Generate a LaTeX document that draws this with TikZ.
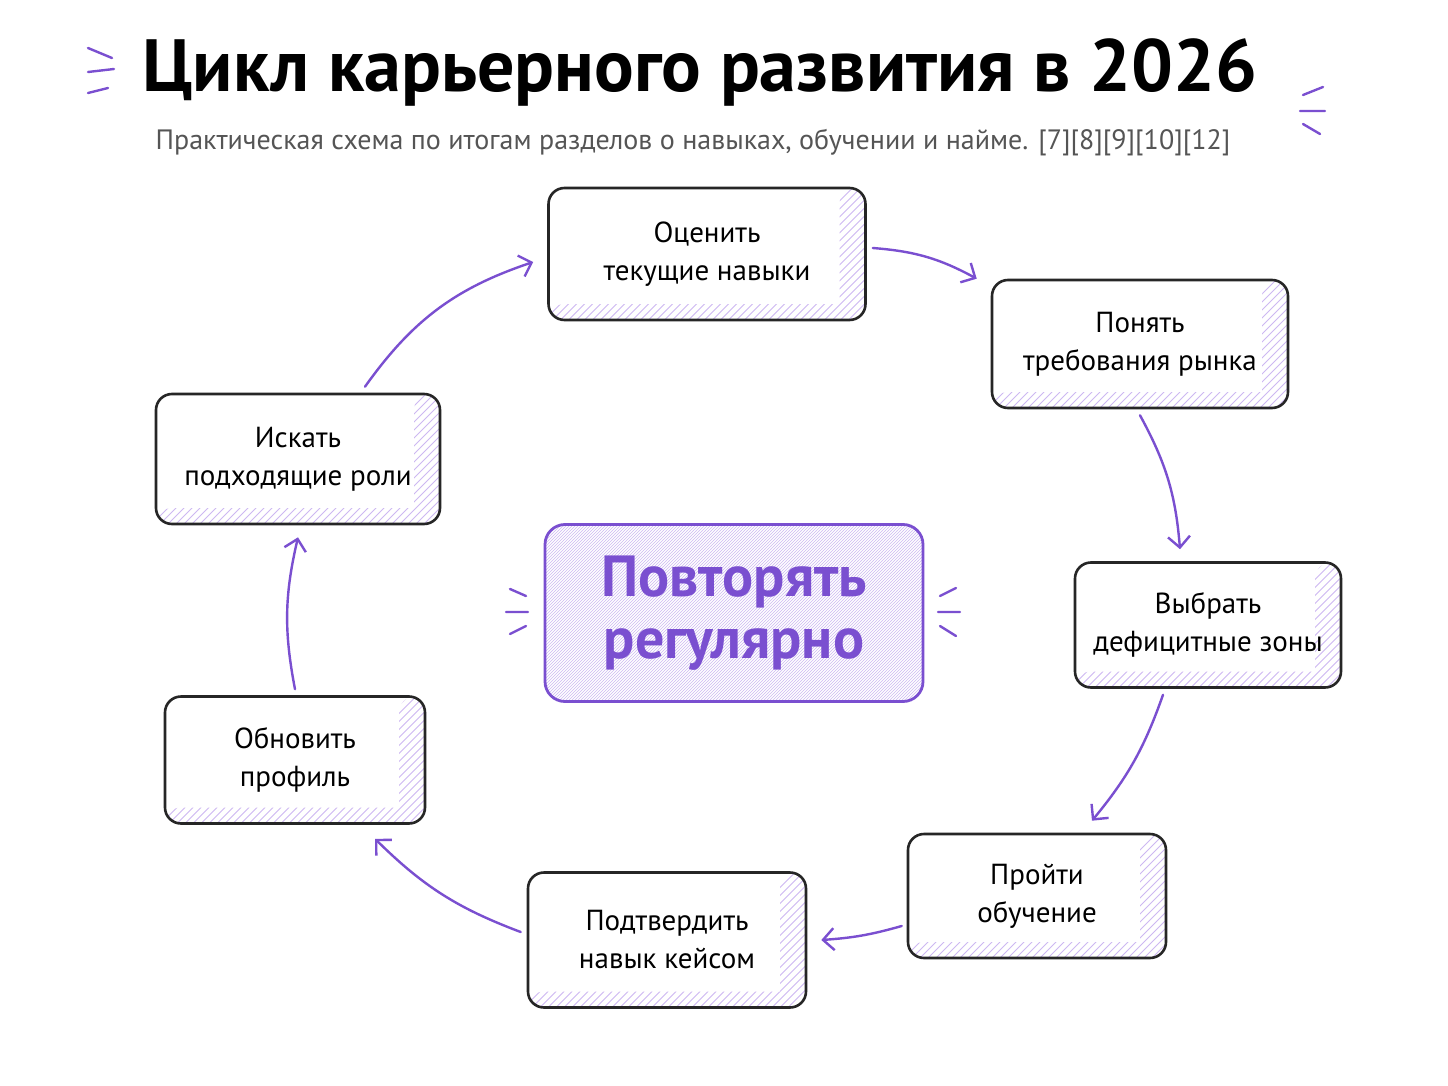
\documentclass[tikz,border=0pt]{standalone}
\usepackage{fontspec}
\setmainfont{PT Sans}
\usetikzlibrary{arrows.meta,patterns}
\definecolor{pur}{HTML}{7A4FD0}
\definecolor{hat}{HTML}{CDB8F2}
\definecolor{sub}{HTML}{555555}
\begin{document}
\begin{tikzpicture}[x=1pt,y=-1pt,
  hatch/.style={path picture={
    \begin{scope}
    \clip (path picture bounding box.south west) ++(0,-16) rectangle (path picture bounding box.south east)
          (path picture bounding box.north east) ++(-26,0) rectangle (path picture bounding box.south east);
    \foreach \i in {-300,-292,...,700}{\draw[hat,line width=0.8pt] ([xshift=\i pt]path picture bounding box.south west) -- ++(150,-150);}
    \end{scope}}},
  box/.style={draw=black!85,line width=2.6pt,rounded corners=16pt,fill=white,align=center,font=\fontsize{29}{38}\selectfont,hatch},
  arr/.style={draw=pur,line width=2.4pt,-{Straight Barb[length=11pt,width=22pt]},line cap=round},
  deco/.style={draw=pur,line width=2.4pt,line cap=round}]
\useasboundingbox (0,0) rectangle (1448,1086);
\fill[white] (0,0) rectangle (1448,1086);
\node (title) at (700,72) {\fontsize{74}{80}\selectfont\bfseries Цикл карьерного развития в 2026};
\node[text=sub] (subt) at (693,143) {\fontsize{28}{32}\selectfont Практическая схема по итогам разделов о навыках, обучении и найме. [7][8][9][10][12]};
\node[box,minimum width=317pt,minimum height=132pt] (n1) at (707,254) {Оценить\\текущие навыки};
\node[box,minimum width=296pt,minimum height=128pt] (n2) at (1140,344) {Понять\\требования рынка};
\node[box,minimum width=266pt,minimum height=125pt] (n3) at (1208,625) {Выбрать\\дефицитные зоны};
\node[box,minimum width=258pt,minimum height=124pt] (n4) at (1037,896) {Пройти\\обучение};
\node[box,minimum width=278pt,minimum height=135pt] (n5) at (667,940) {Подтвердить\\навык кейсом};
\node[box,minimum width=260pt,minimum height=127pt] (n6) at (295,760) {Обновить\\профиль};
\node[box,minimum width=284pt,minimum height=130pt] (n7) at (298,459) {Искать\\подходящие роли};
\node[draw=pur,line width=2.8pt,rounded corners=20pt,minimum width=378pt,minimum height=177pt,pattern={north east lines},pattern color=hat,align=center,text=pur,font=\fontsize{58}{62}\selectfont\bfseries] (c) at (734,613) {Повторять\\регулярно};
\draw[arr] ([xshift=6pt,yshift=6pt]n1.east) to[bend left=12] ([xshift=-14pt]n2.north west);
\draw[arr] ([yshift=-6pt]n2.south) to[bend left=12] ([yshift=12pt,xshift=-28pt]n3.north);
\draw[arr] ([yshift=-6pt,xshift=-45pt]n3.south) to[bend left=10] ([yshift=12pt,xshift=55pt]n4.north);
\draw[arr] ([xshift=-5pt,yshift=-30pt]n4.west) to[bend left=6] ([xshift=14pt,yshift=0pt]n5.east);
\draw[arr] ([xshift=-6pt,yshift=8pt]n5.west) to[bend left=12] ([xshift=80pt,yshift=-14pt]n6.south);
\draw[arr] ([yshift=6pt]n6.north) to[bend left=12] ([yshift=-12pt]n7.south);
\draw[arr] ([xshift=67pt,yshift=6pt]n7.north) to[bend left=18] ([xshift=-14pt,yshift=-8pt]n1.west);
\draw[deco] (88,48)--(112,58) (88,72)--(114,69) (88,93)--(108,88);
\draw[deco] (1303,95)--(1323,87) (1300,111)--(1325,111) (1303,124)--(1320,134);
\draw[deco] (510,589)--(526,596) (506,612)--(528,612) (510,634)--(526,626);
\draw[deco] (940,596)--(956,588) (938,612)--(960,612) (940,626)--(956,636);
\end{tikzpicture}
\end{document}
